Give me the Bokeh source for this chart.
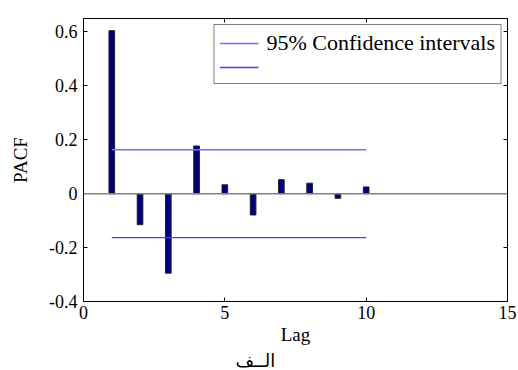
from bokeh.plotting import figure
from bokeh.models import LinearAxis, FixedTicker, Legend, LegendItem, Span, Title, CustomLabelingPolicy
from bokeh.embed import file_html
from bokeh.resources import INLINE

# ---- data ----
lags = [1, 2, 3, 4, 5, 6, 7, 8, 9, 10]
pacf = [0.605, -0.115, -0.295, 0.177, 0.033, -0.079, 0.052, 0.039, -0.017, 0.025]
ci_upper = 0.163
ci_lower = -0.163
x_ticks = [0, 5, 10, 15]
y_ticks = [-0.4, -0.2, 0, 0.2, 0.4, 0.6]
y_tick_labels = ["-0.4", "-0.2", "0", "0.2", "0.4", "0.6"]
legend_label = "95% Confidence intervals"
x_label = "Lag"
y_label = "PACF"
caption = "الــف"

SERIF = "Liberation Serif"

p = figure(width=518, height=370, x_range=(0, 15), y_range=(-0.4, 0.65),
           output_backend="svg", toolbar_location=None,
           min_border_left=83, min_border_right=11, min_border_top=18,
           min_border_bottom=67)
p.grid.visible = False
p.outline_line_color = "black"
p.background_fill_color = "white"
p.border_fill_color = "white"

# baseline
p.add_layout(Span(location=0, dimension="width", line_color="#808080", line_width=1.5))

# bars
p.vbar(x=lags, top=pacf, bottom=0, width=0.2, fill_color="#00007f", line_color="#222222", line_width=1)

# confidence lines
r_up = p.line(x=[lags[0], lags[-1]], y=[ci_upper, ci_upper], line_color="#7070ff", line_width=1.3)
r_lo = p.line(x=[lags[0], lags[-1]], y=[ci_lower, ci_lower], line_color="#4040ff", line_width=1.3)

no_labels = CustomLabelingPolicy(code="for (const i of Array.from(indices)) indices.unset(i)")

# axes
def style_axis(ax, labels=True):
    ax.axis_line_color = "black"
    ax.major_tick_line_color = "black"
    ax.major_tick_in = 4
    ax.major_tick_out = 0
    ax.minor_tick_line_color = None
    ax.major_label_text_font = SERIF
    ax.major_label_text_font_size = "18px"
    ax.major_label_text_color = "black"
    if not labels:
        ax.major_label_policy = no_labels
        ax.major_label_text_font_size = "1px"
        ax.major_label_standoff = 0

xa = p.xaxis[0]
xa.ticker = FixedTicker(ticks=x_ticks)
style_axis(xa)
xa.major_label_standoff = 4
xa.axis_label = x_label
xa.axis_label_text_font = SERIF
xa.axis_label_text_font_size = "19px"
xa.axis_label_text_font_style = "normal"
xa.axis_label_text_color = "black"
xa.axis_label_standoff = 2

ya = p.yaxis[0]
ya.ticker = FixedTicker(ticks=y_ticks)
ya.major_label_overrides = {v: s for v, s in zip(y_ticks, y_tick_labels)}
style_axis(ya)
ya.major_label_standoff = 6
ya.axis_label = y_label
ya.axis_label_text_font = SERIF
ya.axis_label_text_font_size = "19px"
ya.axis_label_text_font_style = "normal"
ya.axis_label_text_color = "black"
ya.axis_label_standoff = 15

top_ax = LinearAxis(ticker=FixedTicker(ticks=x_ticks))
style_axis(top_ax, labels=False)
p.add_layout(top_ax, "above")
right_ax = LinearAxis(ticker=FixedTicker(ticks=y_ticks))
style_axis(right_ax, labels=False)
p.add_layout(right_ax, "right")

# legend
leg = Legend(items=[LegendItem(label=legend_label, renderers=[r_up]),
                    LegendItem(label=" ", renderers=[r_lo])],
             location="top_right")
leg.label_text_font = SERIF
leg.label_text_font_size = "22px"
leg.label_text_color = "black"
leg.glyph_width = 39
leg.glyph_height = 22
leg.label_height = 22
leg.label_standoff = 8
leg.spacing = 0
leg.padding = 5
leg.margin = 6
leg.border_line_color = "black"
leg.border_line_width = 1
leg.background_fill_color = "white"
leg.background_fill_alpha = 1
p.add_layout(leg, "center")

# caption below the x-axis label
cap = Title(text=caption, align="left", offset=152, standoff=0,
            text_font="DejaVu Sans", text_font_size="18px",
            text_font_style="normal", text_color="black")
p.add_layout(cap, "below")

open("out.html", "w").write(file_html(p, INLINE))
